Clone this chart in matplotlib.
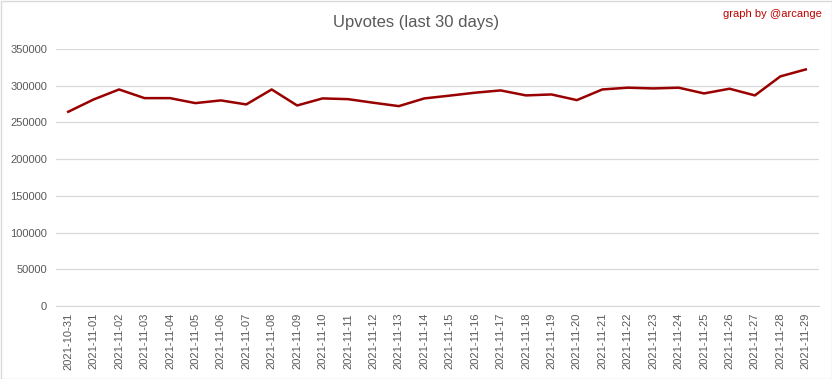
import matplotlib
matplotlib.use("Agg")
import matplotlib.pyplot as plt
from matplotlib.patches import Rectangle

dates = ["2021-10-31", "2021-11-01", "2021-11-02", "2021-11-03", "2021-11-04",
         "2021-11-05", "2021-11-06", "2021-11-07", "2021-11-08", "2021-11-09",
         "2021-11-10", "2021-11-11", "2021-11-12", "2021-11-13", "2021-11-14",
         "2021-11-15", "2021-11-16", "2021-11-17", "2021-11-18", "2021-11-19",
         "2021-11-20", "2021-11-21", "2021-11-22", "2021-11-23", "2021-11-24",
         "2021-11-25", "2021-11-26", "2021-11-27", "2021-11-28", "2021-11-29"]
upvotes = [264500, 281300, 294900, 283100, 283100, 276300, 280000, 274500, 294900, 273100,
           282700, 281700, 276800, 272200, 282700, 286500, 290500, 293600, 286800, 288100,
           280400, 294900, 297300, 296300, 297300, 289500, 295900, 286800, 312700, 322200]
yticks = [0, 50000, 100000, 150000, 200000, 250000, 300000, 350000]

plt.rcParams['font.family'] = ['Liberation Sans', 'DejaVu Sans']
grey = '#595959'

fig = plt.figure(figsize=(8.32, 3.79), dpi=100)
ax = fig.add_axes([55.5 / 832, 1 - 306 / 379, (818.5 - 55.5) / 832, (306 - 49) / 379])

x = list(range(len(dates)))
ax.plot(x, upvotes, color='#990000', linewidth=1.8, solid_joinstyle='round')

ax.set_xlim(-0.5, len(dates) - 0.5)
ax.set_ylim(0, 350000)
ax.set_yticks(yticks)
ax.set_yticklabels([str(v) for v in yticks], fontsize=8, color=grey)
ax.set_xticks(x)
ax.set_xticklabels(dates, rotation=90, fontsize=8, color=grey)
ax.tick_params(axis='both', length=0, pad=6)
ax.tick_params(axis='x', pad=5)
ax.grid(axis='y', color='#d9d9d9', linewidth=0.9)
ax.set_axisbelow(True)
for s in ['top', 'right', 'left']:
    ax.spines[s].set_visible(False)
ax.spines['bottom'].set_color('#d9d9d9')

fig.text(0.5, 1 - 22 / 379, "Upvotes (last 30 days)", ha='center', va='center',
         fontsize=12, color=grey)
fig.text(822 / 832, 1 - 14 / 379, "graph by @arcange", ha='right', va='center',
         fontsize=8, color='#c00000')

fig.patches.append(Rectangle((0.5 / 832, 0.5 / 379), 1 - 1 / 832, 1 - 1 / 379,
                             transform=fig.transFigure, fill=False,
                             edgecolor='#d9d9d9', linewidth=1))

fig.savefig('out.png', dpi=100)
